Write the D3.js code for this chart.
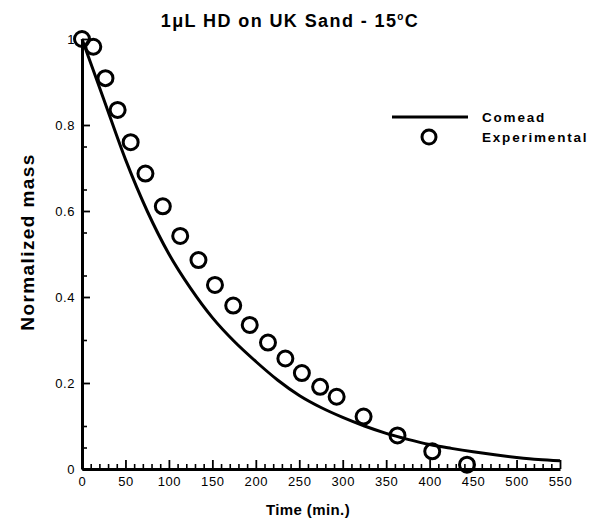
<!DOCTYPE html>
<html>
<head>
<meta charset="utf-8">
<script src="https://cdn.jsdelivr.net/npm/d3@7/dist/d3.min.js"></script>
<style>
  html, body { margin: 0; padding: 0; background: #fff; }
  svg { display: block; }
  text { font-family: "Liberation Sans", Arial, sans-serif; fill: #000; }
</style>
</head>
<body>
<svg id="chart" width="591" height="523"></svg>
<script>
// ---- data ----
const expTime = [0, 13, 27, 41, 56, 73, 93, 113, 134, 153, 174, 193, 214, 234, 253, 274, 293, 324, 363, 403, 443];
const expMass = [1.0, 0.982, 0.909, 0.835, 0.760, 0.687, 0.611, 0.542, 0.486, 0.428, 0.380, 0.335, 0.294, 0.257, 0.223, 0.191, 0.168, 0.122, 0.078, 0.041, 0.010];

const modelTime = [0, 25, 50, 75, 100, 125, 150, 175, 200, 225, 250, 275, 300, 325, 350, 375, 400, 425, 450, 475, 500, 525, 550];
const modelMass = [1.0, 0.86, 0.72, 0.60, 0.50, 0.42, 0.352, 0.297, 0.250, 0.207, 0.171, 0.143, 0.120, 0.100, 0.083, 0.069, 0.057, 0.048, 0.040, 0.033, 0.027, 0.022, 0.019];

const xTicks = [0, 50, 100, 150, 200, 250, 300, 350, 400, 450, 500, 550];
const xTickLabels = ["0", "50", "100", "150", "200", "250", "300", "350", "400", "450", "500", "550"];
const yTicks = [0, 0.2, 0.4, 0.6, 0.8, 1];
const yTickLabels = ["0", "0.2", "0.4", "0.6", "0.8", "1"];
const xMinorTicks = [10, 20, 30, 40, 60, 70, 80, 90, 110, 120, 130, 140, 160, 170, 180, 190, 210, 220, 230, 240, 260, 270, 280, 290, 310, 320, 330, 340, 360, 370, 380, 390, 410, 420, 430, 440, 460, 470, 480, 490, 510, 520, 530, 540];
const yMinorTicks = [0.05, 0.1, 0.3, 0.45, 0.55, 0.65, 0.75];

const seriesNames = ["Comead", "Experimental"];
const titleMain = "1\u03BCL HD on UK Sand - 15";
const xTitle = "Time (min.)";
const yTitle = "Normalized mass";

// ---- layout ----
const svg = d3.select("#chart");
const mLeft = 82, mRight = 560, mTop = 39, mBottom = 469;

const x = d3.scaleLinear().domain([0, 550]).range([mLeft, mRight]);
const y = d3.scaleLinear().domain([0, 1]).range([mBottom, mTop]);

// title
const t = svg.append("text")
  .attr("x", 290).attr("y", 27)
  .attr("text-anchor", "middle")
  .style("font-size", "18px").style("font-weight", "bold")
  .style("letter-spacing", "1.4px");
t.append("tspan").text(titleMain);
t.append("tspan").attr("dy", -7).style("font-size", "10px").text("o");
t.append("tspan").attr("dy", 7).text("C");

// minor ticks
svg.append("g").attr("transform", `translate(0,${mBottom})`)
  .call(d3.axisBottom(x).tickValues(xMinorTicks).tickSize(-5).tickSizeOuter(0).tickFormat(""))
  .call(g => g.select(".domain").remove())
  .call(g => g.selectAll("line").attr("stroke", "#000").attr("stroke-width", 1.6));
svg.append("g").attr("transform", `translate(${mLeft},0)`)
  .call(d3.axisLeft(y).tickValues(yMinorTicks).tickSize(-5).tickSizeOuter(0).tickFormat(""))
  .call(g => g.select(".domain").remove())
  .call(g => g.selectAll("line").attr("stroke", "#000").attr("stroke-width", 1.6));

// major axes
const xAxis = svg.append("g").attr("transform", `translate(0,${mBottom})`)
  .call(d3.axisBottom(x).tickValues(xTicks).tickSize(-9).tickSizeOuter(0).tickPadding(8)
    .tickFormat((d, i) => xTickLabels[i]));
const yAxis = svg.append("g").attr("transform", `translate(${mLeft},0)`)
  .call(d3.axisLeft(y).tickValues(yTicks).tickSize(-8).tickSizeOuter(0).tickPadding(7)
    .tickFormat((d, i) => yTickLabels[i]));
[xAxis, yAxis].forEach(g => {
  g.select(".domain").attr("stroke", "#000").attr("stroke-width", 3);
  g.selectAll(".tick line").attr("stroke", "#000").attr("stroke-width", 1.8);
  g.selectAll(".tick text")
    .style("font-family", "'Liberation Sans', Arial, sans-serif")
    .style("font-size", "13px").style("letter-spacing", "0.6px")
    .attr("fill", "#111");
});

// axis titles
svg.append("text")
  .attr("x", 308).attr("y", 515)
  .attr("text-anchor", "middle")
  .style("font-size", "15px").style("font-weight", "bold")
  .style("letter-spacing", "0.4px")
  .text(xTitle);
svg.append("text")
  .attr("transform", "translate(34,242) rotate(-90)")
  .attr("text-anchor", "middle")
  .style("font-size", "19px").style("font-weight", "bold")
  .style("letter-spacing", "1.4px")
  .text(yTitle);

// model line
const modelData = modelTime.map((d, i) => [d, modelMass[i]]);
svg.append("path")
  .datum(modelData)
  .attr("fill", "none").attr("stroke", "#000").attr("stroke-width", 3)
  .attr("d", d3.line().x(d => x(d[0])).y(d => y(d[1])).curve(d3.curveMonotoneX));

// experimental circles
const expData = expTime.map((d, i) => [d, expMass[i]]);
svg.append("g").selectAll("circle")
  .data(expData).join("circle")
  .attr("cx", d => x(d[0])).attr("cy", d => y(d[1]))
  .attr("r", 7.5)
  .attr("fill", "none").attr("stroke", "#000").attr("stroke-width", 3);

// legend
const lg = svg.append("g");
lg.append("line").attr("x1", 392).attr("x2", 468).attr("y1", 117).attr("y2", 117)
  .attr("stroke", "#000").attr("stroke-width", 3);
lg.append("circle").attr("cx", 429).attr("cy", 137).attr("r", 7)
  .attr("fill", "none").attr("stroke", "#000").attr("stroke-width", 3);
lg.selectAll("text.lab").data(seriesNames).join("text").attr("class", "lab")
  .attr("x", 482).attr("y", (d, i) => 117 + i * 20)
  .attr("dy", "0.35em")
  .style("font-size", "13.5px").style("font-weight", "bold")
  .style("letter-spacing", "1.8px")
  .text(d => d);
</script>
</body>
</html>
